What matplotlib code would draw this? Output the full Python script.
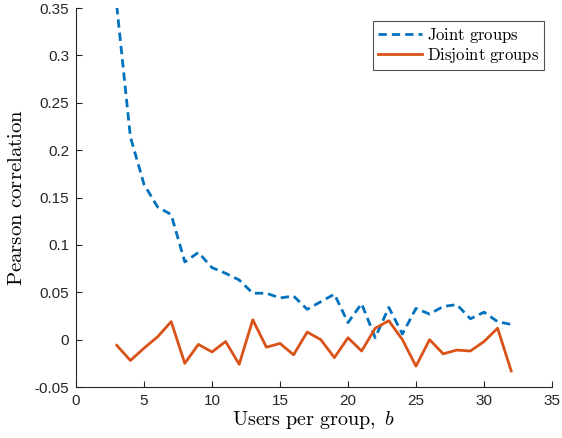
import matplotlib
matplotlib.use("Agg")
import matplotlib.pyplot as plt

plt.rcParams['mathtext.fontset'] = 'cm'
plt.rcParams['font.family'] = ['Liberation Sans', 'DejaVu Sans']

BLUE = "#0072BD"
ORANGE = "#D95319"
AXIS_COLOR = "#262626"

# users per group b
b = list(range(3, 33))

joint = [0.352, 0.214, 0.164, 0.140, 0.132, 0.082, 0.092, 0.076, 0.070, 0.063,
         0.049, 0.049, 0.044, 0.046, 0.032, 0.040, 0.048, 0.018, 0.038, 0.002,
         0.034, 0.006, 0.033, 0.027, 0.035, 0.037, 0.022, 0.029, 0.019, 0.016]

disjoint = [-0.006, -0.022, -0.009, 0.003, 0.019, -0.025, -0.005, -0.013, -0.002, -0.026,
            0.021, -0.008, -0.004, -0.016, 0.008, 0.000, -0.019, 0.002, -0.012, 0.012,
            0.020, 0.000, -0.028, 0.000, -0.015, -0.011, -0.012, -0.002, 0.012, -0.033]

fig = plt.figure(figsize=(5.62, 4.38), dpi=100, facecolor="white")
ax = fig.add_axes([0.1352, 0.1164, 0.847, 0.8653])

ax.plot(b, joint, color=BLUE, linewidth=2.0, linestyle=(0, (3.0, 1.8)),
        label=r'$\mathrm{Joint\ groups}$')
ax.plot(b, disjoint, color=ORANGE, linewidth=2.0, label=r'$\mathrm{Disjoint\ groups}$')

ax.set_xlim(0, 35)
ax.set_ylim(-0.05, 0.35)
ax.set_xticks([0, 5, 10, 15, 20, 25, 30, 35])
ax.set_yticks([-0.05, 0, 0.05, 0.1, 0.15, 0.2, 0.25, 0.3, 0.35])
ax.set_yticklabels(['-0.05', '0', '0.05', '0.1', '0.15', '0.2', '0.25', '0.3', '0.35'])

ax.spines['top'].set_visible(False)
ax.spines['right'].set_visible(False)
for s in ('left', 'bottom'):
    ax.spines[s].set_color(AXIS_COLOR)
    ax.spines[s].set_linewidth(0.8)
ax.tick_params(direction='in', length=4, width=0.8, colors=AXIS_COLOR,
               labelsize=11, labelcolor='#262626', pad=5)

ax.set_xlabel(r'$\mathrm{Users\ per\ group,}\ b$', fontsize=14.5, labelpad=1)
ax.set_ylabel(r'$\mathrm{Pearson\ correlation}$', fontsize=15, labelpad=6)

leg = ax.legend(loc='upper right', bbox_to_anchor=(0.99, 0.975), fontsize=12,
                frameon=True, fancybox=False, handlelength=2.6, handletextpad=0.3,
                borderpad=0.3, labelspacing=0.05, borderaxespad=0.2)
leg.get_frame().set_edgecolor('#262626')
leg.get_frame().set_linewidth(0.8)

fig.savefig("out.png", dpi=100, facecolor="white")
